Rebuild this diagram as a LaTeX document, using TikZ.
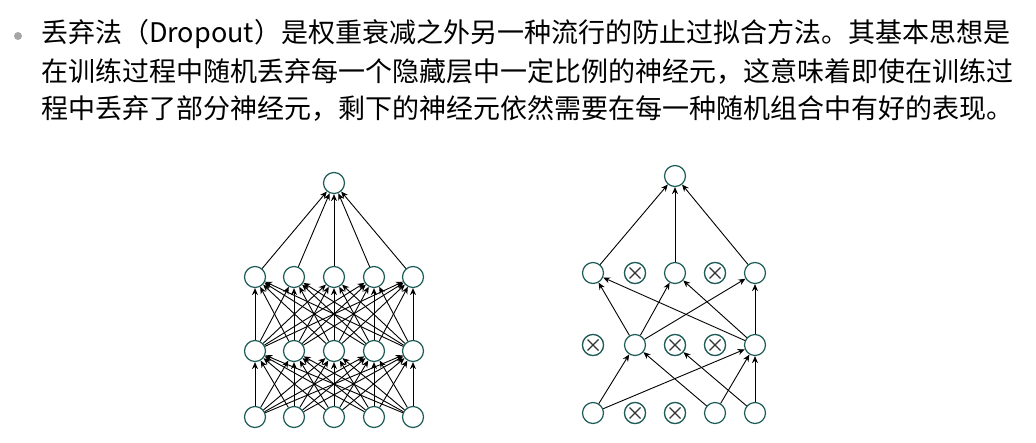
\documentclass[tikz,border=0pt]{standalone}
\usepackage{fontspec}
\newfontfamily\cjk{Noto Sans CJK SC}
\usetikzlibrary{arrows.meta}
\definecolor{nodeline}{HTML}{1E5C58}
\tikzset{
  neuron/.style={circle,draw=nodeline,line width=1.2pt,minimum size=21pt,inner sep=0pt,fill=white},
  dropped/.style={neuron,path picture={\draw[line width=1.1pt,black!80] (path picture bounding box.south west)++(5pt,5pt) -- ++(11pt,11pt) (path picture bounding box.north west)++(5pt,-5pt) -- ++(11pt,-11pt);}},
  conn/.style={-{Stealth[length=7pt,width=6pt]},line width=0.9pt},
  bodytext/.style={anchor=west,inner sep=0pt,font=\cjk\fontsize{27}{30}\selectfont}
}
\begin{document}
\begin{tikzpicture}[x=1pt,y=-1pt]
\useasboundingbox (0,0) rectangle (1036,442);
% text
\fill[gray!70] (18,36) circle (4);
\node[bodytext] (t1) at (41,34) {丢弃法（Dropout）是权重衰减之外另一种流行的防止过拟合方法。其基本思想是};
\node[bodytext] (t2) at (41,71) {在训练过程中随机丢弃每一个隐藏层中一定比例的神经元，这意味着即使在训练过};
\node[bodytext] (t3) at (41,108) {程中丢弃了部分神经元，剩下的神经元依然需要在每一种随机组合中有好的表现。};
% left: full network
\foreach \i/\x in {1/255,2/294,3/334,4/374,5/413}{
  \node[neuron] (a\i) at (\x,417) {};
  \node[neuron] (b\i) at (\x,351) {};
  \node[neuron] (c\i) at (\x,277) {};
}
\node[neuron] (d) at (334,183) {};
\foreach \i in {1,...,5}{
  \foreach \j in {1,...,5}{
    \draw[conn] (a\i) -- (b\j);
    \draw[conn] (b\i) -- (c\j);
  }
  \draw[conn] (c\i) -- (d);
}
% right: thinned network
\foreach \i/\x in {1/593,2/635,3/675,4/715,5/755}{
  \node[neuron] (p\i) at (\x,413) {};
  \node[neuron] (q\i) at (\x,345) {};
  \node[neuron] (r\i) at (\x,273) {};
}
\node[neuron] (s) at (675,176) {};
\foreach \n in {p2,p3,q1,q3,q4,r2,r4}
  \node[dropped] at (\n) {};
\foreach \u/\v in {p1/q2,p1/q5,p4/q2,p4/q5,p5/q3,p5/q5,q2/r1,q2/r3,q2/r5,q5/r1,q5/r3,q5/r5,r1/s,r3/s,r5/s}
  \draw[conn] (\u) -- (\v);
\end{tikzpicture}
\end{document}
